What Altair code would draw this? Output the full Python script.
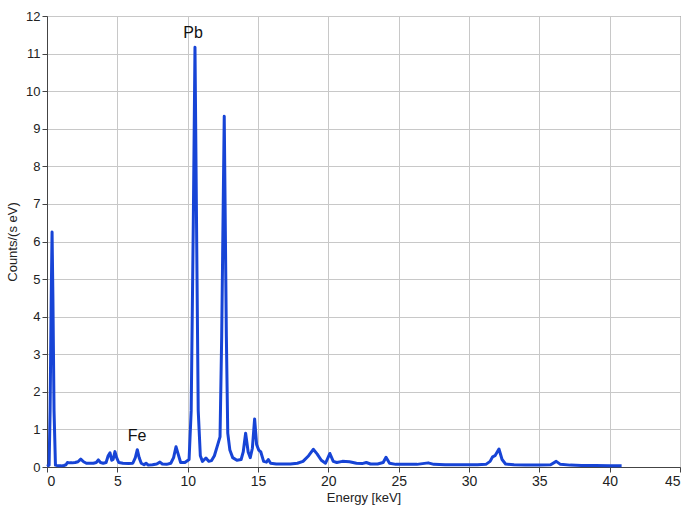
import altair as alt
import pandas as pd

energy = [0.0, 0.15, 0.22, 0.3, 0.36, 0.42, 0.5, 0.6, 0.8, 1.0, 1.2, 1.35, 1.45, 1.6, 1.8,
          2.0, 2.2, 2.4, 2.6, 2.8, 3.0, 3.3, 3.5, 3.65, 3.8, 4.0, 4.2, 4.35, 4.48, 4.6,
          4.7, 4.83, 4.95, 5.1, 5.4, 5.8, 6.1, 6.28, 6.42, 6.55, 6.7, 6.9, 7.04, 7.2, 7.5,
          7.8, 8.03, 8.2, 8.5, 8.8, 9.0, 9.17, 9.32, 9.5, 9.8, 10.1, 10.25, 10.4, 10.52, 10.63,
          10.75, 10.9, 11.05, 11.3, 11.5, 11.7, 11.9, 12.1, 12.3, 12.42, 12.6, 12.75, 12.85, 13.0, 13.2,
          13.5, 13.8, 13.95, 14.12, 14.3, 14.45, 14.6, 14.76, 14.9, 15.05, 15.2, 15.4, 15.6, 15.73, 15.9,
          16.3, 16.8, 17.3, 17.8, 18.2, 18.6, 18.93, 19.2, 19.5, 19.8, 20.11, 20.35, 20.6, 21.0, 21.5,
          22.0, 22.4, 22.7, 23.0, 23.5, 23.9, 24.1, 24.35, 24.8, 25.5, 26.3, 27.1, 27.5, 28.3, 29.0,
          29.8, 30.6, 31.2, 31.5, 31.68, 31.85, 32.13, 32.35, 32.6, 33.2, 34.0, 35.0, 35.8, 36.2, 36.5,
          37.2, 38.0, 39.0, 40.0, 40.85]
counts = [0.02, 0.05, 1.5, 4.5, 6.25, 4.5, 1.5, 0.05, 0.03, 0.03, 0.04, 0.06, 0.12, 0.11, 0.11,
          0.12, 0.14, 0.21, 0.14, 0.1, 0.1, 0.1, 0.12, 0.19, 0.12, 0.1, 0.12, 0.3, 0.38, 0.18,
          0.2, 0.41, 0.25, 0.12, 0.1, 0.09, 0.1, 0.25, 0.46, 0.25, 0.1, 0.06, 0.1, 0.05, 0.06,
          0.08, 0.13, 0.08, 0.07, 0.1, 0.25, 0.54, 0.35, 0.12, 0.12, 0.2, 1.5, 6.5, 11.17, 6.5,
          1.5, 0.3, 0.15, 0.24, 0.15, 0.17, 0.3, 0.55, 0.8, 3.5, 9.33, 3.5, 0.9, 0.45, 0.25,
          0.18, 0.2, 0.4, 0.9, 0.4, 0.25, 0.5, 1.28, 0.6, 0.45, 0.4, 0.15, 0.13, 0.2, 0.1,
          0.08, 0.08, 0.08, 0.1, 0.15, 0.3, 0.47, 0.35, 0.18, 0.1, 0.36, 0.15, 0.12, 0.15, 0.14,
          0.1, 0.09, 0.12, 0.08, 0.08, 0.12, 0.26, 0.1, 0.07, 0.07, 0.07, 0.11, 0.07, 0.06, 0.06,
          0.06, 0.06, 0.07, 0.15, 0.27, 0.3, 0.48, 0.2, 0.08, 0.06, 0.05, 0.05, 0.06, 0.15, 0.07,
          0.05, 0.04, 0.04, 0.03, 0.03]

label_text = ["Pb", "Fe"]
label_energy = [10.38, 6.4]
label_counts = [11.55, 0.82]

x_ticks = [0, 5, 10, 15, 20, 25, 30, 35, 40, 45]
y_ticks = list(range(0, 13))

FONT = "Liberation Sans, Arial, sans-serif"

df = pd.DataFrame({"energy": energy, "counts": counts})
lab = pd.DataFrame({"text": label_text, "energy": label_energy, "counts": label_counts})

x_enc = alt.X("energy:Q", scale=alt.Scale(domain=[0, 45], nice=False, zero=False),
              axis=alt.Axis(title="Energy [keV]", values=x_ticks, format="d", labelOverlap=False,
                            titleFontWeight="normal", titleFontSize=13, labelFontSize=14,
                            titlePadding=3, labelPadding=2, tickSize=5,
                            gridColor="#c8c8c8", domainColor="#444", tickColor="#444",
                            labelColor="#222", titleColor="#222", labelFont=FONT, titleFont=FONT))
y_enc = alt.Y("counts:Q", scale=alt.Scale(domain=[0, 12], nice=False),
              axis=alt.Axis(title="Counts/(s eV)", values=y_ticks, format="d", labelOverlap=False,
                            titleFontWeight="normal", titleFontSize=13, labelFontSize=13,
                            titlePadding=6, labelPadding=2, tickSize=5,
                            gridColor="#c8c8c8", domainColor="#444", tickColor="#444",
                            labelColor="#222", titleColor="#222", labelFont=FONT, titleFont=FONT))

line = alt.Chart(df).mark_line(color="#1744d6", strokeWidth=3, strokeJoin="round").encode(
    x=x_enc, y=y_enc)

text = alt.Chart(lab).mark_text(fontSize=16, font=FONT, color="#111", align="center",
                                baseline="middle").encode(
    x=x_enc, y=y_enc, text="text:N")

chart = alt.layer(line, text).properties(
    width=633, height=451,
    autosize=alt.AutoSizeParams(type="none"),
    padding={"left": 47, "top": 16, "right": 7, "bottom": 41},
    background="white",
).configure_view(stroke="#444", strokeWidth=1)

chart.save("out.html", embed_options={"renderer": "svg", "actions": False})
